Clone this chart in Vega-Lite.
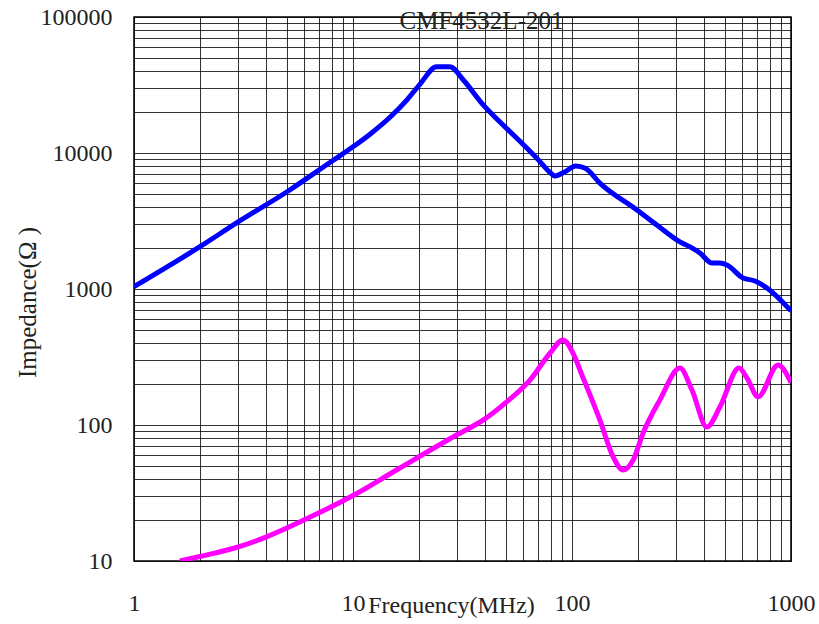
{
  "$schema": "https://vega.github.io/schema/vega-lite/v6.json",
  "width": 657,
  "height": 544,
  "autosize": {"type": "none"},
  "padding": {"left": 134, "top": 17, "right": 28, "bottom": 63},
  "background": "white",
  "config": {
    "view": {"stroke": "#000", "strokeWidth": 1.5},
    "font": "Liberation Serif"
  },
  "data": {
    "values": [
      {"f": 1, "z": 1040, "curve": "Z"},
      {"f": 2, "z": 2046, "curve": "Z"},
      {"f": 3, "z": 3125, "curve": "Z"},
      {"f": 5, "z": 5190, "curve": "Z"},
      {"f": 8, "z": 8700, "curve": "Z"},
      {"f": 10, "z": 11100, "curve": "Z"},
      {"f": 12, "z": 13800, "curve": "Z"},
      {"f": 14.75, "z": 18300, "curve": "Z"},
      {"f": 17.6, "z": 24500, "curve": "Z"},
      {"f": 20.2, "z": 32000, "curve": "Z"},
      {"f": 24.1, "z": 43100, "curve": "Z"},
      {"f": 27.7, "z": 43100, "curve": "Z"},
      {"f": 31.9, "z": 34400, "curve": "Z"},
      {"f": 39.4, "z": 22500, "curve": "Z"},
      {"f": 46.9, "z": 16900, "curve": "Z"},
      {"f": 60, "z": 11500, "curve": "Z"},
      {"f": 70.2, "z": 8900, "curve": "Z"},
      {"f": 79.3, "z": 7200, "curve": "Z"},
      {"f": 83.6, "z": 6780, "curve": "Z"},
      {"f": 92.9, "z": 7280, "curve": "Z"},
      {"f": 104, "z": 8020, "curve": "Z"},
      {"f": 115, "z": 7710, "curve": "Z"},
      {"f": 134, "z": 6010, "curve": "Z"},
      {"f": 198, "z": 3810, "curve": "Z"},
      {"f": 244, "z": 2950, "curve": "Z"},
      {"f": 311, "z": 2220, "curve": "Z"},
      {"f": 346, "z": 2040, "curve": "Z"},
      {"f": 384, "z": 1840, "curve": "Z"},
      {"f": 436, "z": 1550, "curve": "Z"},
      {"f": 474, "z": 1550, "curve": "Z"},
      {"f": 510, "z": 1500, "curve": "Z"},
      {"f": 604, "z": 1205, "curve": "Z"},
      {"f": 685, "z": 1146, "curve": "Z"},
      {"f": 777, "z": 1016, "curve": "Z"},
      {"f": 1000, "z": 690, "curve": "Z"},
      {"f": 1.62, "z": 10, "curve": "R"},
      {"f": 2, "z": 10.8, "curve": "R"},
      {"f": 3, "z": 12.7, "curve": "R"},
      {"f": 4, "z": 15.0, "curve": "R"},
      {"f": 6, "z": 20.1, "curve": "R"},
      {"f": 10, "z": 30.3, "curve": "R"},
      {"f": 15.8, "z": 46.7, "curve": "R"},
      {"f": 29.7, "z": 84.4, "curve": "R"},
      {"f": 39.4, "z": 109, "curve": "R"},
      {"f": 50.3, "z": 148, "curve": "R"},
      {"f": 64.3, "z": 214, "curve": "R"},
      {"f": 79.3, "z": 337, "curve": "R"},
      {"f": 91, "z": 422, "curve": "R"},
      {"f": 101, "z": 338, "curve": "R"},
      {"f": 112, "z": 225, "curve": "R"},
      {"f": 134, "z": 109, "curve": "R"},
      {"f": 154, "z": 58.5, "curve": "R"},
      {"f": 171, "z": 46.7, "curve": "R"},
      {"f": 190, "z": 55, "curve": "R"},
      {"f": 211, "z": 87, "curve": "R"},
      {"f": 252, "z": 153, "curve": "R"},
      {"f": 311, "z": 262, "curve": "R"},
      {"f": 353, "z": 181, "curve": "R"},
      {"f": 413, "z": 96.7, "curve": "R"},
      {"f": 474, "z": 136, "curve": "R"},
      {"f": 579, "z": 262, "curve": "R"},
      {"f": 629, "z": 222, "curve": "R"},
      {"f": 707, "z": 161, "curve": "R"},
      {"f": 873, "z": 276, "curve": "R"},
      {"f": 1000, "z": 205, "curve": "R"}
    ]
  },
  "resolve": {"axis": {"x": "independent"}},
  "layer": [
    {
      "transform": [{"filter": "datum.curve == 'Z'"}],
      "mark": {"type": "line", "strokeWidth": 5, "interpolate": "monotone", "clip": true},
      "encoding": {
        "x": {
          "field": "f",
          "type": "quantitative",
          "scale": {"type": "log", "domain": [1, 1000], "nice": false},
          "axis": {
            "orient": "bottom",
            "title": "Frequency(MHz)",
            "titleFont": "Liberation Serif",
            "titleFontSize": 24,
            "titleFontWeight": "normal",
            "titleColor": "#222",
            "titleX": 317,
            "titleY": 44,
            "titleBaseline": "middle",
            "titleAnchor": "middle",
            "values": [1,2,3,4,5,6,7,8,9,10,20,30,40,50,60,70,80,90,100,200,300,400,500,600,700,800,900,1000],
            "format": "d",
            "labelExpr": "indexof([1,10,100,1000], datum.value) >= 0 ? datum.label : ''",
            "labelFont": "Liberation Serif",
            "labelFontSize": 24,
            "labelColor": "#222",
            "labelPadding": 30,
            "labelFlush": false,
            "labelOverlap": false,
            "ticks": false,
            "domain": false,
            "grid": true,
            "gridColor": "#000",
            "gridOpacity": 0.8,
            "gridWidth": 1
          }
        },
        "y": {
          "field": "z",
          "type": "quantitative",
          "scale": {"type": "log", "domain": [10, 100000], "nice": false},
          "axis": {
            "title": "Impedance(Ω )",
            "titleFont": "Liberation Serif",
            "titleFontSize": 25,
            "titleFontWeight": "normal",
            "titleColor": "#222",
            "titleX": -107,
            "titleY": 285,
            "titleAngle": -90,
            "titleBaseline": "middle",
            "titleAnchor": "middle",
            "values": [10,20,30,40,50,60,70,80,90,100,200,300,400,500,600,700,800,900,1000,2000,3000,4000,5000,6000,7000,8000,9000,10000,20000,30000,40000,50000,60000,70000,80000,90000,100000],
            "format": "d",
            "labelExpr": "indexof([10,100,1000,10000,100000], datum.value) >= 0 ? datum.label : ''",
            "labelFont": "Liberation Serif",
            "labelFontSize": 24,
            "labelColor": "#222",
            "labelPadding": 22,
            "labelFlush": false,
            "labelOverlap": false,
            "ticks": false,
            "domain": false,
            "grid": true,
            "gridColor": "#000",
            "gridOpacity": 0.8,
            "gridWidth": 1
          }
        },
        "color": {
          "field": "curve",
          "type": "nominal",
          "scale": {"domain": ["Z", "R"], "range": ["#0000ff", "#ff00ff"]},
          "legend": null
        }
      }
    },
    {
      "transform": [{"filter": "datum.curve == 'R'"}],
      "mark": {"type": "line", "strokeWidth": 5, "interpolate": "monotone", "clip": true},
      "encoding": {
        "x": {
          "field": "f",
          "type": "quantitative",
          "scale": {"type": "log", "domain": [1, 1000], "nice": false},
          "axis": {
            "orient": "top",
            "title": "CMF4532L-201",
            "titleFont": "Liberation Serif",
            "titleFontSize": 25,
            "titleFontWeight": "normal",
            "titleColor": "#222",
            "titleX": 347,
            "titleY": 3,
            "titleBaseline": "middle",
            "titleAnchor": "middle",
            "labels": false,
            "ticks": false,
            "domain": false,
            "grid": false
          }
        },
        "y": {"field": "z", "type": "quantitative"},
        "color": {"field": "curve", "type": "nominal", "legend": null}
      }
    }
  ]
}
